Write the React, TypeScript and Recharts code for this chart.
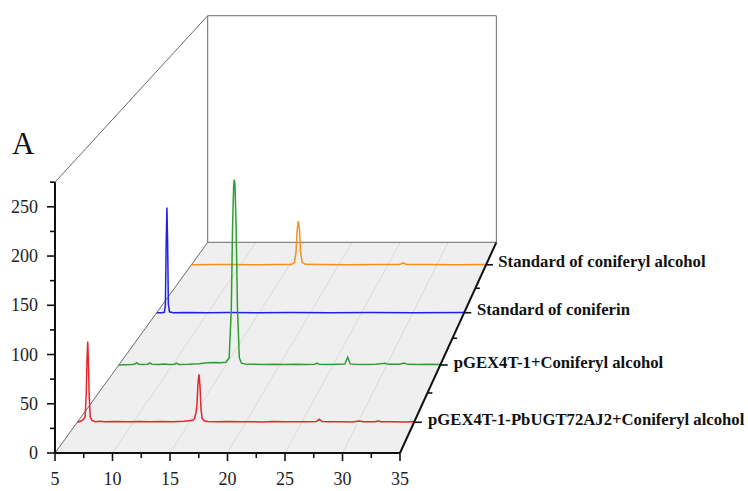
import React from "react";
import {
  Area,
  ComposedChart,
  Line,
  ReferenceDot,
  ReferenceLine,
  XAxis,
  YAxis,
} from "recharts";

/* ── data: [retention time (min), intensity] ── */

const TIME_TICKS = [5, 7.5, 10, 12.5, 15, 17.5, 20, 22.5, 25, 27.5, 30, 32.5, 35];
const INTENSITY_TICKS = [0, 25, 50, 75, 100, 125, 150, 175, 200, 225, 250, 275];
const DEPTH_MINOR_TICKS = [0.25, 0.5, 0.75];

const SERIES_NAMES = [
  "pGEX4T-1-PbUGT72AJ2+Coniferyl alcohol",
  "pGEX4T-1+Coniferyl alcohol",
  "Standard of coniferin",
  "Standard of coniferyl alcohol",
];
const SERIES_COLORS = ["#e5262a", "#2f9e32", "#2020e6", "#f5901e"];

const TRACE_ENZYME: [number, number][] = [
  [5, 0], [5.3, 1], [5.55, 3], [5.7, 6], [5.8, 30], [5.87, 66], [5.93, 84],
  [5.99, 64], [6.06, 28], [6.15, 6], [6.3, 2], [6.6, 0.5], [7, 1], [7.5, 0.5],
  [8.5, 0.8], [9.5, 0.5], [10.5, 0.8], [11.5, 0.5], [12.5, 0.7], [13.5, 0.5],
  [14.5, 1], [15.3, 2], [15.45, 4], [15.58, 10], [15.66, 18], [15.75, 40],
  [15.84, 50], [15.93, 38], [16.02, 14], [16.12, 4], [16.3, 1.5], [16.6, 0.8],
  [17.5, 0.5], [18.5, 0.8], [19.5, 0.5], [20.5, 0.6], [21.5, 0.4], [22.5, 0.7],
  [23.5, 0.5], [24.5, 0.6], [25.5, 0.5], [26.3, 0.8], [26.55, 3.1], [26.8, 0.8],
  [27.5, 0.5], [28.5, 0.6], [29.5, 0.4], [30.1, 1.2], [30.5, 0.6], [31.5, 0.5],
  [31.8, 1.3], [32.1, 0.5], [33, 0.6], [34, 0.4], [35, 0.5],
];

const TRACE_VECTOR: [number, number][] = [
  [5, 0], [5.5, 0.3], [6.2, 0.5], [6.5, 1], [6.67, 2.5], [6.85, 0.8], [7.3, 0.6],
  [7.7, 0.8], [7.91, 2.2], [8.1, 0.7], [8.7, 0.6], [9.3, 1], [9.6, 0.5],
  [10.2, 0.8], [10.4, 2], [10.6, 0.6], [11.5, 0.8], [12.5, 1.5], [13.3, 2.5],
  [14, 2.8], [14.5, 2.5], [15, 3], [15.3, 8], [15.5, 60], [15.62, 150],
  [15.72, 195], [15.78, 202], [15.85, 195], [15.95, 150], [16.08, 60],
  [16.25, 8], [16.45, 2], [16.8, 1], [17.5, 0.8], [18.5, 0.6], [19.5, 0.8],
  [20.5, 0.6], [21.5, 0.8], [22.5, 0.6], [23.3, 0.8], [23.48, 2], [23.7, 0.8],
  [24.5, 0.6], [25.5, 0.8], [26.1, 1], [26.36, 8.4], [26.6, 1.2], [27, 0.8],
  [28, 0.6], [29, 0.8], [29.85, 2], [30.2, 0.7], [31.2, 0.8], [31.62, 2.2],
  [32, 0.7], [33, 0.6], [34, 0.8], [35, 0.6],
];

const TRACE_CONIFERIN: [number, number][] = [
  [5, 0], [5.5, 0], [5.75, 0.5], [5.85, 8], [5.93, 80], [6, 120], [6.07, 80],
  [6.14, 10], [6.25, 1], [6.6, 0], [8, 0.3], [10, 0], [12, 0.3], [15, 0],
  [18, 0.2], [22, 0], [26, 0.3], [30, 0], [35, 0.2],
];

const TRACE_CONIFERYL: [number, number][] = [
  [5, 0], [8, 0.3], [12, 0], [14, 0.3], [15.2, 0.5], [15.5, 3], [15.65, 15],
  [15.77, 42], [15.89, 52], [16, 42], [16.12, 15], [16.27, 3], [16.6, 0.6],
  [18, 0.3], [21, 0.2], [24, 0.3], [26.2, 0.5], [26.58, 2.4], [26.9, 0.5],
  [29, 0.3], [32, 0.2], [35, 0.3],
];

const TRACES = [TRACE_ENZYME, TRACE_VECTOR, TRACE_CONIFERIN, TRACE_CONIFERYL];

/* ── 3D frame: front plane is the real x/y scale, depth goes 0 → 1 ── */

const X_MIN = 5;
const X_MAX = 35;
const Y_TOP = 275;
const VP_X = 86.3; // vanishing point, in front-plane data units
const VP_Y = 1310;
const PERSP = 0.1952;

function project(x: number, y: number, z: number) {
  const s = 1 / (1 + PERSP * z);
  return { px: VP_X + (x - VP_X) * s, py: VP_Y + (y - VP_Y) * s };
}

const seriesDepth = (i: number) => (i + 0.5) / SERIES_NAMES.length;

const FONT = '"Liberation Serif", "Times New Roman", serif';
const EDGE = "#6a6a6a";

const seg = (a: { px: number; py: number }, b: { px: number; py: number }) => [
  { x: a.px, y: a.py },
  { x: b.px, y: b.py },
];

function TimeTick(props: any) {
  const { x, y, payload } = props;
  const major = payload.value % 5 === 0;
  return (
    <g>
      <line x1={x} y1={y} x2={x} y2={y + (major ? 8 : 5)} stroke="#111" strokeWidth={1.6} />
      {major && (
        <text x={x} y={y + 32} textAnchor="middle" fontSize={18} fontFamily={FONT} fill="#222">
          {payload.value}
        </text>
      )}
    </g>
  );
}

function IntensityTick(props: any) {
  const { x, y, payload } = props;
  const major = payload.value % 50 === 0;
  return (
    <g>
      <line x1={x - (major ? 8 : 5)} y1={y} x2={x} y2={y} stroke="#111" strokeWidth={1.6} />
      {major && (
        <text x={x - 17} y={y + 6} textAnchor="end" fontSize={18} fontFamily={FONT} fill="#222">
          {payload.value}
        </text>
      )}
    </g>
  );
}

export default function App() {
  const FL = project(X_MIN, 0, 0);
  const FR = project(X_MAX, 0, 0);
  const BL = project(X_MIN, 0, 1);
  const BR = project(X_MAX, 0, 1);
  const BTL = project(X_MIN, Y_TOP, 1);
  const BTR = project(X_MAX, Y_TOP, 1);
  const FTL = project(X_MIN, Y_TOP, 0);

  const floor = [
    { px: FL.px, range: [0, 0] },
    { px: BL.px, range: [0, BL.py] },
    { px: FR.px, range: [0, BR.py] },
    { px: BR.px, range: [BR.py, BR.py] },
  ];

  const floorGrid = [10, 15, 20, 25, 30].map((t) => [project(t, 0, 0), project(t, 0, 1)]);

  // draw back-most series first
  const order = [3, 2, 1, 0];

  return (
    <div style={{ position: "relative", width: 748, height: 491, background: "#fff" }}>
      <style>{"body{margin:0}"}</style>
      <div
        style={{
          position: "absolute",
          left: 12,
          top: 128,
          fontFamily: FONT,
          fontSize: 31,
          color: "#111",
          lineHeight: 1,
        }}
      >
        A
      </div>
      <ComposedChart width={748} height={491} margin={{ top: 0, right: 3, bottom: 8, left: 0 }}>
        <XAxis
          type="number"
          dataKey="px"
          domain={[5, 65]}
          allowDataOverflow
          ticks={TIME_TICKS}
          interval={0}
          axisLine={false}
          tickLine={false}
          tickSize={0}
          tickMargin={0}
          height={30}
          tick={<TimeTick />}
        />
        <YAxis
          type="number"
          domain={[0, 460]}
          allowDataOverflow
          ticks={INTENSITY_TICKS}
          interval={0}
          axisLine={false}
          tickLine={false}
          tickSize={0}
          tickMargin={0}
          width={55}
          tick={<IntensityTick />}
        />

        <Area
          data={floor}
          dataKey="range"
          type="linear"
          stroke="none"
          fill="#efefef"
          fillOpacity={1}
          isAnimationActive={false}
          dot={false}
          activeDot={false}
        />
        {floorGrid.map(([a, b], i) => (
          <Line
            key={`fg${i}`}
            data={[a, b]}
            dataKey="py"
            type="linear"
            stroke="#d6d6d6"
            strokeWidth={0.8}
            dot={false}
            activeDot={false}
            isAnimationActive={false}
          />
        ))}

        {/* back wall + frame edges */}
        <ReferenceLine segment={seg(BL, BR)} stroke={EDGE} strokeWidth={1} ifOverflow="visible" />
        <ReferenceLine segment={seg(BL, BTL)} stroke={EDGE} strokeWidth={1} ifOverflow="visible" />
        <ReferenceLine segment={seg(BTL, BTR)} stroke={EDGE} strokeWidth={1} ifOverflow="visible" />
        <ReferenceLine segment={seg(BTR, BR)} stroke={EDGE} strokeWidth={1} ifOverflow="visible" />
        <ReferenceLine segment={seg(FTL, BTL)} stroke={EDGE} strokeWidth={1} ifOverflow="visible" />
        <ReferenceLine segment={seg(FL, BL)} stroke={EDGE} strokeWidth={1} ifOverflow="visible" />

        {order.map((i) => {
          const z = seriesDepth(i);
          const pts = TRACES[i].map(([t, v]) => project(t, v, z));
          return (
            <Line
              key={SERIES_NAMES[i]}
              data={pts}
              dataKey="py"
              type="linear"
              stroke={SERIES_COLORS[i]}
              strokeWidth={1.5}
              dot={false}
              activeDot={false}
              isAnimationActive={false}
            />
          );
        })}

        {/* front axes */}
        <ReferenceLine segment={seg(FL, FR)} stroke="#111" strokeWidth={2} ifOverflow="visible" />
        <ReferenceLine segment={seg(FL, FTL)} stroke="#111" strokeWidth={2} ifOverflow="visible" />
        {/* depth axis */}
        <ReferenceLine segment={seg(FR, BR)} stroke="#111" strokeWidth={2} ifOverflow="visible" />
        {DEPTH_MINOR_TICKS.map((z) => (
          <ReferenceLine
            key={`dm${z}`}
            segment={seg(project(X_MAX, 0, z), project(X_MAX + 0.45, 0, z))}
            stroke="#111"
            strokeWidth={1.6}
            ifOverflow="visible"
          />
        ))}
        {SERIES_NAMES.map((name, i) => {
          const z = seriesDepth(i);
          const end = project(X_MAX + 0.7, 0, z);
          const at = project(X_MAX + 1.25, 0, z);
          return (
            <React.Fragment key={`lab${i}`}>
              <ReferenceLine
                segment={seg(project(X_MAX, 0, z), end)}
                stroke="#111"
                strokeWidth={1.6}
                ifOverflow="visible"
              />
              <ReferenceDot
                x={at.px}
                y={at.py}
                r={0}
                ifOverflow="visible"
                shape={(p: any) => (
                  <text
                    x={p.cx}
                    y={p.cy + 2.5}
                    fontFamily={FONT}
                    fontWeight="bold"
                    fontSize={16.7}
                    fill="#111"
                  >
                    {name}
                  </text>
                )}
              />
            </React.Fragment>
          );
        })}
      </ComposedChart>
    </div>
  );
}
